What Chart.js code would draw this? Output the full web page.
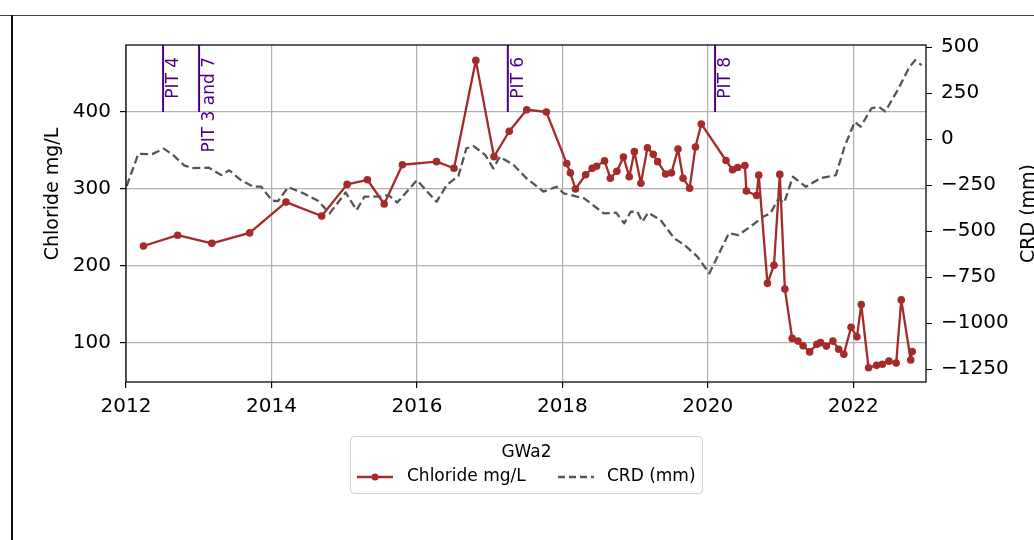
<!DOCTYPE html>
<html>
<head>
<meta charset="utf-8">
<script src="https://cdn.jsdelivr.net/npm/chart.js@4.4.1/dist/chart.umd.min.js"></script>
<style>
  html, body { margin: 0; padding: 0; background: #fff; }
  #wrap { position: relative; width: 1034px; height: 540px; overflow: hidden; }
</style>
</head>
<body>
<div id="wrap"><canvas id="chart" width="1034" height="540"></canvas></div>
<script>
// Chloride samples: decimal year, mg/L
const chlorideDates = [
  2012.24, 2012.71, 2013.18, 2013.70, 2014.20, 2014.69, 2015.04, 2015.32, 2015.55, 2015.80,
  2016.27, 2016.51, 2016.81, 2017.06, 2017.27, 2017.51, 2017.78, 2018.06, 2018.11, 2018.18,
  2018.32, 2018.41, 2018.47, 2018.58, 2018.66, 2018.75, 2018.84, 2018.92, 2018.99, 2019.08,
  2019.17, 2019.25, 2019.31, 2019.42, 2019.50, 2019.59, 2019.66, 2019.75, 2019.83, 2019.91,
  2020.25, 2020.34, 2020.41, 2020.51, 2020.53, 2020.67, 2020.70, 2020.82, 2020.91, 2020.99,
  2021.06, 2021.16, 2021.24, 2021.31, 2021.40, 2021.50, 2021.55, 2021.63, 2021.72, 2021.80,
  2021.87, 2021.97, 2022.05, 2022.11, 2022.21, 2022.32, 2022.40, 2022.49, 2022.59, 2022.66,
  2022.79, 2022.81
];
const chlorideValues = [
  226, 240, 229.5, 243, 283, 265, 306, 312, 280.5, 331.5,
  335.5, 327, 467, 342, 375, 403, 400, 333, 321, 300,
  318.5, 327, 329.5, 336.5, 314, 323, 341.5, 316, 348.5, 307.5,
  353.5, 345, 335.5, 319.5, 321, 352, 314, 301, 354.5, 384.5,
  337, 325, 328, 330.5, 297.5, 291.5, 318, 177.5, 201, 319,
  170, 106, 102.5, 96.5, 88.5, 98.5, 100.5, 96, 102.5, 92,
  85.5, 120.5, 108, 150, 68, 71, 72.5, 76.5, 74, 156,
  78, 89
];

// CRD: decimal year, mm
const crdDates = [
  2012.01, 2012.17, 2012.36, 2012.52, 2012.65, 2012.80, 2012.91, 2013.14, 2013.31, 2013.42,
  2013.58, 2013.75, 2013.86, 2014.01, 2014.09, 2014.23, 2014.44, 2014.64, 2014.80, 2015.02,
  2015.17, 2015.28, 2015.50, 2015.61, 2015.73, 2016.00, 2016.27, 2016.41, 2016.57, 2016.68,
  2016.78, 2016.94, 2017.05, 2017.14, 2017.33, 2017.51, 2017.74, 2017.92, 2018.02, 2018.20,
  2018.30, 2018.57, 2018.74, 2018.85, 2018.94, 2019.03, 2019.10, 2019.18, 2019.35, 2019.54,
  2019.68, 2019.86, 2020.02, 2020.29, 2020.42, 2020.64, 2020.76, 2020.86, 2020.97, 2021.05,
  2021.17, 2021.35, 2021.55, 2021.76, 2021.88, 2022.02, 2022.10, 2022.25, 2022.35, 2022.44,
  2022.61, 2022.77, 2022.85, 2022.94
];
const crdValues = [
  -255, -80, -82, -52, -87, -143, -158, -156, -196, -170,
  -223, -259, -259, -335, -337, -261, -295, -335, -404, -290,
  -386, -313, -313, -304, -345, -223, -341, -250, -201, -51,
  -38, -87, -159, -96, -141, -214, -286, -259, -295, -313,
  -322, -404, -400, -458, -395, -395, -449, -400, -440, -540,
  -576, -640, -730, -511, -522, -460, -422, -404, -325, -346,
  -205, -259, -212, -196, -42, 94, 67, 167, 176, 150,
  266, 390, 428, 402
];

// PIT events
const pitDates = [2012.51, 2013.005, 2017.25, 2020.10];
const pitLabels = ['PIT 4', 'PIT 3 and 7', 'PIT 6', 'PIT 8'];
const pitLevel = 400;

const xTicks = [2012, 2014, 2016, 2018, 2020, 2022];
const leftTicks = [100, 200, 300, 400];
const rightTicks = [500, 250, 0, -250, -500, -750, -1000, -1250];

const SMALL = '17px "DejaVu Sans"';
const LABEL = '19px "DejaVu Sans"';
const RED = '#a52a2a';
const GREY = '#555555';
const PIT = '#4b0082';

Chart.defaults.font.family = '"DejaVu Sans"';
Chart.defaults.font.size = 20;
Chart.defaults.color = '#000';

const decor = {
  id: 'decor',
  beforeDraw(chart) {
    const c = chart.ctx;
    c.save();
    c.fillStyle = '#fff';
    c.fillRect(0, 0, chart.width, chart.height);
    // page frame
    c.fillStyle = '#444';
    c.fillRect(0, 15, chart.width, 1);
    c.fillStyle = '#111';
    c.fillRect(11, 15, 2, chart.height - 15);
    c.restore();
  },
  afterDatasetsDraw(chart) {
    const c = chart.ctx;
    const a = chart.chartArea;
    const x = chart.scales.x, y = chart.scales.y;
    c.save();
    // PIT markers
    c.strokeStyle = PIT;
    c.fillStyle = PIT;
    c.lineWidth = 2;
    c.font = SMALL;
    pitDates.forEach((d, i) => {
      const px = x.getPixelForValue(d);
      c.beginPath();
      c.moveTo(px, a.top);
      c.lineTo(px, y.getPixelForValue(pitLevel));
      c.stroke();
      c.save();
      c.translate(px + 15, 57);
      c.rotate(-Math.PI / 2);
      c.textAlign = 'right';
      c.textBaseline = 'alphabetic';
      c.fillText(pitLabels[i], 0, 0);
      c.restore();
    });
    // axes box
    c.strokeStyle = '#000';
    c.lineWidth = 1.25;
    c.strokeRect(a.left, a.top, a.right - a.left, a.bottom - a.top);
    c.restore();
  },
  afterDraw(chart) {
    const c = chart.ctx;
    const a = chart.chartArea;
    const mid = (a.top + a.bottom) / 2;
    c.save();
    c.font = LABEL;
    c.fillStyle = '#000';
    c.textAlign = 'center';
    c.textBaseline = 'alphabetic';
    // axis titles
    c.save();
    c.translate(58, 194);
    c.rotate(-Math.PI / 2);
    c.fillText('Chloride mg/L', 0, 0);
    c.restore();
    c.save();
    c.translate(1034, mid);
    c.rotate(-Math.PI / 2);
    c.fillText('CRD (mm)', 0, 0);
    c.restore();

    // legend
    c.font = SMALL;
    const bx = 350.5, by = 436.5, bw = 352, bh = 57, r = 4;
    c.beginPath();
    c.moveTo(bx + r, by);
    c.arcTo(bx + bw, by, bx + bw, by + bh, r);
    c.arcTo(bx + bw, by + bh, bx, by + bh, r);
    c.arcTo(bx, by + bh, bx, by, r);
    c.arcTo(bx, by, bx + bw, by, r);
    c.closePath();
    c.fillStyle = 'rgba(255,255,255,0.8)';
    c.fill();
    c.strokeStyle = '#d0d0d0';
    c.lineWidth = 1;
    c.stroke();

    c.fillStyle = '#000';
    c.textBaseline = 'middle';
    c.textAlign = 'center';
    c.fillText('GWa2', bx + bw / 2, 453);
    const ly = 477;
    c.strokeStyle = RED;
    c.lineWidth = 2.3;
    c.beginPath();
    c.moveTo(357, ly);
    c.lineTo(393, ly);
    c.stroke();
    c.fillStyle = RED;
    c.beginPath();
    c.arc(375, ly, 3.5, 0, Math.PI * 2);
    c.fill();
    c.strokeStyle = GREY;
    c.setLineDash([7, 4]);
    c.beginPath();
    c.moveTo(558, ly);
    c.lineTo(594, ly);
    c.stroke();
    c.setLineDash([]);
    c.fillStyle = '#000';
    c.textAlign = 'left';
    c.fillText('Chloride mg/L', 407, ly);
    c.fillText('CRD (mm)', 607, ly);
    c.restore();
  }
};

new Chart(document.getElementById('chart'), {
  type: 'line',
  data: {
    datasets: [
      {
        label: 'Chloride mg/L',
        data: chlorideDates.map((d, i) => ({ x: d, y: chlorideValues[i] })),
        yAxisID: 'y',
        borderColor: RED,
        backgroundColor: RED,
        borderWidth: 2.3,
        borderJoinStyle: 'round',
        pointRadius: 3.8,
        pointBorderWidth: 0,
        tension: 0,
        order: 2
      },
      {
        label: 'CRD (mm)',
        data: crdDates.map((d, i) => ({ x: d, y: crdValues[i] })),
        yAxisID: 'y2',
        borderColor: GREY,
        borderWidth: 2.3,
        borderJoinStyle: 'round',
        borderDash: [8, 4],
        pointRadius: 0,
        tension: 0,
        order: 1
      }
    ]
  },
  options: {
    responsive: false,
    animation: false,
    events: [],
    layout: { padding: { top: 45, left: 0, right: 0, bottom: 0 } },
    plugins: { legend: { display: false }, tooltip: { enabled: false } },
    scales: {
      x: {
        type: 'linear',
        min: 2012,
        max: 2023,
        afterFit: s => { s.height = 158; },
        afterBuildTicks: s => { s.ticks = xTicks.map(v => ({ value: v })); },
        grid: { color: '#b0b0b0', lineWidth: 1.2, tickColor: '#000', tickLength: 6 },
        border: { display: false },
        ticks: { padding: 7, maxRotation: 0, callback: v => String(v) }
      },
      y: {
        position: 'left',
        min: 49.4,
        max: 487,
        afterFit: s => { s.width = 126; },
        afterBuildTicks: s => { s.ticks = leftTicks.map(v => ({ value: v })); },
        grid: { color: '#b0b0b0', lineWidth: 1.2, tickColor: '#000', tickLength: 6 },
        border: { display: false },
        ticks: { padding: 9, callback: v => String(v) }
      },
      y2: {
        position: 'right',
        min: -1320,
        max: 511,
        afterFit: s => { s.width = 108; },
        afterBuildTicks: s => { s.ticks = rightTicks.map(v => ({ value: v })); },
        grid: { drawOnChartArea: false, tickColor: '#000', tickLength: 6 },
        border: { display: false },
        ticks: { padding: 9, callback: v => (v < 0 ? '\u2212' + Math.abs(v) : String(v)) }
      }
    }
  },
  plugins: [decor]
});
</script>
</body>
</html>
